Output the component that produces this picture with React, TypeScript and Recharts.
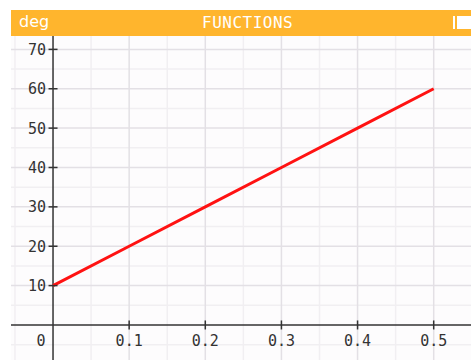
import React from "react"
import { LineChart, Line, XAxis, YAxis, ReferenceLine, ReferenceDot } from "recharts"

// function plotted: deg against x
const xValues = [0, 0.1, 0.2, 0.3, 0.4, 0.5]
const degValues = [10, 20, 30, 40, 50, 60]

const xTicks = [0, 0.1, 0.2, 0.3, 0.4, 0.5]
const yTicks = [10, 20, 30, 40, 50, 60, 70]
const xMajor = [0.1, 0.2, 0.3, 0.4, 0.5]
const xMinor = [-0.05, 0.05, 0.15, 0.25, 0.35, 0.45]
const yMajor = [10, 20, 30, 40, 50, 60, 70]
const yMinor = [-5, 5, 15, 25, 35, 45, 55, 65]

const data = xValues.map((x, i) => ({ x, deg: degValues[i] }))

const MONO = "'DejaVu Sans Mono', monospace"
const AXIS = "#333333"

const XTick = (v: number) => (props: any) => {
  const { cx, cy } = props
  return (
    <g>
      {v !== 0 && <line x1={cx} x2={cx} y1={cy - 4.5} y2={cy + 4.5} stroke={AXIS} strokeWidth={1.5} />}
      <text x={v === 0 ? cx - 12 : cx} y={cy + 21} textAnchor="middle" fontFamily={MONO} fontSize={15} fill={AXIS}>
        {v === 0 ? "0" : v.toFixed(1)}
      </text>
    </g>
  )
}

const YTick = (v: number) => (props: any) => {
  const { cx, cy } = props
  return (
    <g>
      <line x1={cx - 4.5} x2={cx + 4.5} y1={cy} y2={cy} stroke={AXIS} strokeWidth={1.5} />
      <text x={cx - 7} y={cy + 5.5} textAnchor="end" fontFamily={MONO} fontSize={15} fill={AXIS}>
        {v}
      </text>
    </g>
  )
}

export default function App() {
  return (
    <div style={{ position: "absolute", left: 0, top: 0, width: 471, height: 360, background: "#fff", overflow: "hidden" }}>
      {/* header bar */}
      <div style={{ position: "absolute", left: 11, top: 10, width: 460, height: 26, background: "#ffb52d" }}>
        <span style={{ position: "absolute", left: 8, top: 2, color: "#fff", fontFamily: "'DejaVu Sans', sans-serif", fontSize: 16 }}>deg</span>
        <span style={{ position: "absolute", left: 191, top: 3, color: "#fff", fontFamily: MONO, fontSize: 16, letterSpacing: 0.5 }}>FUNCTIONS</span>
        <div style={{ position: "absolute", left: 442, top: 6, width: 2, height: 13, background: "#fff" }} />
        <div style={{ position: "absolute", left: 446, top: 6, width: 16, height: 13, background: "#fff" }} />
      </div>

      <div style={{ position: "absolute", left: 11, top: 36, width: 460, height: 324, background: "#fdfcfd" }}>
        <LineChart width={460} height={324} data={data} margin={{ top: 0, right: 0, bottom: 0, left: 0 }}>
          <XAxis type="number" dataKey="x" domain={[-0.0552, 0.549]} hide allowDataOverflow />
          <YAxis type="number" domain={[-8.9, 73.4]} hide allowDataOverflow />

          {xMinor.map(v => <ReferenceLine key={"xm" + v} x={v} stroke="#f1eff2" strokeWidth={1.5} />)}
          {yMinor.map(v => <ReferenceLine key={"ym" + v} y={v} stroke="#f1eff2" strokeWidth={1.5} />)}
          {xMajor.map(v => <ReferenceLine key={"xM" + v} x={v} stroke="#e3e0e5" strokeWidth={1.5} />)}
          {yMajor.map(v => <ReferenceLine key={"yM" + v} y={v} stroke="#e3e0e5" strokeWidth={1.5} />)}

          <ReferenceLine x={0} stroke={AXIS} strokeWidth={1.5} />
          <ReferenceLine y={0} stroke={AXIS} strokeWidth={1.5} />

          {xTicks.map(v => <ReferenceDot key={"xt" + v} x={v} y={0} shape={XTick(v)} />)}
          {yTicks.map(v => <ReferenceDot key={"yt" + v} x={0} y={v} shape={YTick(v)} />)}

          <Line type="linear" dataKey="deg" stroke="#ff1212" strokeWidth={3} dot={false} isAnimationActive={false} />
        </LineChart>
      </div>
    </div>
  )
}
